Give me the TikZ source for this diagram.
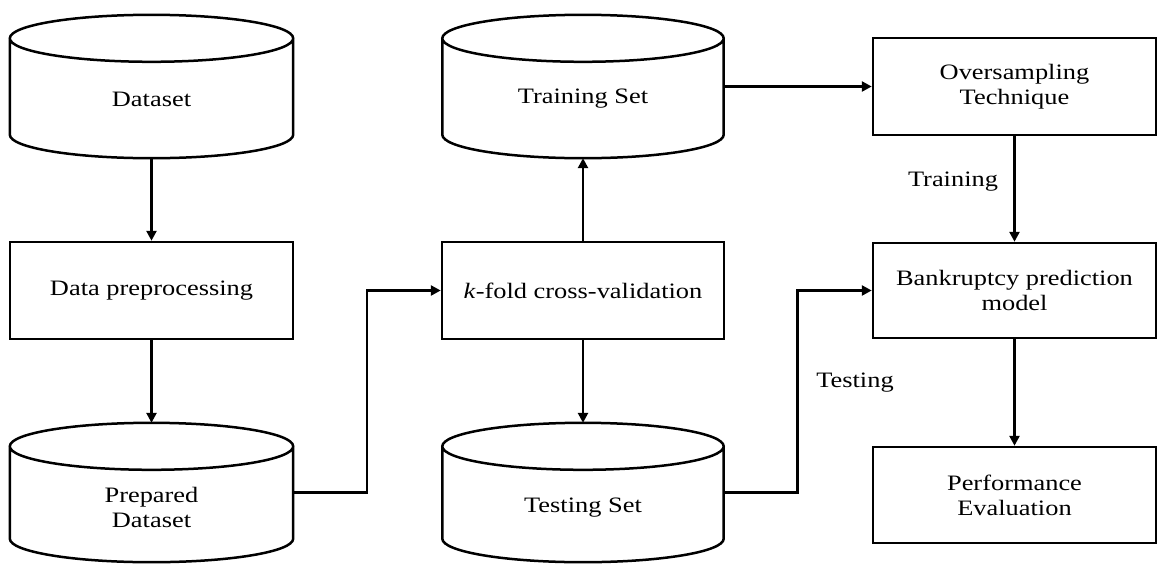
\documentclass[tikz,border=0pt]{standalone}
\usepackage{fontspec}
\setmainfont{Liberation Serif}
\usetikzlibrary{arrows.meta,calc}
\newcommand\wx[1]{\scalebox{1.2}[1]{#1}}
\newcommand\cyldraw[1]{%
  \path let \p1=(#1.north west), \p2=(#1.south east), \n1={(\x2-\x1)/2} in
    [draw=black, line width=2.5pt]
    ({(\x1+\x2)/2},{\y1-23.5pt}) ellipse [x radius=\n1, y radius=23.5pt]
    (\x1,{\y1-23.5pt}) -- (\x1,{\y2+23.5pt})
      arc[start angle=180, end angle=360, x radius=\n1, y radius=23.5pt]
      -- (\x2,{\y1-23.5pt});
}
\tikzset{
  txt/.style={font=\fontsize{22}{25}\selectfont, align=center, inner sep=0pt},
  procbox/.style={draw, line width=2.5pt, minimum width=283pt, minimum height=97pt, inner sep=0pt, font=\fontsize{22}{25}\selectfont, align=center},
  cylbox/.style={minimum width=283pt, inner sep=0pt},
  arr/.style={line width=2.5pt, -{Triangle[length=10pt,width=10pt]}},
  lbl/.style={font=\fontsize{22}{25}\selectfont, inner sep=0pt}
}
\begin{document}
\begin{tikzpicture}[x=1pt,y=-1pt]
\useasboundingbox (0,0) rectangle (1160,563);
% cylinders
\node[cylbox, minimum height=143pt] (ds) at (151.5,86.5) {};
\node[cylbox, minimum height=139pt] (pd) at (151.5,492.5) {};
\node[cylbox, minimum width=281pt, minimum height=143pt] (ts) at (583,86.5) {};
\node[cylbox, minimum width=281pt, minimum height=139pt] (tt) at (583,492.5) {};
\cyldraw{ds}
\cyldraw{pd}
\cyldraw{ts}
\cyldraw{tt}
\node[txt] (dst) at (151.5,99) {\wx{Dataset}};
\node[txt] (pdt) at (151.5,507) {\wx{Prepared}\\\wx{Dataset}};
\node[txt] (tst) at (583,99) {\wx{Training Set}};
\node[txt] (ttt) at (583,508) {\wx{Testing Set}};
% boxes
\node[procbox] (pre) at (151.5,290.5) {\wx{Data preprocessing}};
\node[procbox, minimum width=282pt] (kf) at (583,290.5) {\wx{\textit{k}-fold cross-validation}};
\node[procbox] (os) at (1014.5,86.5) {\wx{Oversampling}\\\wx{Technique}};
\node[procbox, minimum height=95pt] (bp) at (1014.5,290.5) {\wx{Bankruptcy prediction}\\\wx{model}};
\node[procbox, minimum height=96pt] (pe) at (1014.5,495) {\wx{Performance}\\\wx{Evaluation}};
% connectors
\draw[arr] (ds.south) -- (pre.north);
\draw[arr] (pre.south) -- (pd.north);
\draw[arr] (pd.east) -- ++(74,0) |- (kf.west);
\draw[arr] (kf.north) -- (ts.south);
\draw[arr] (kf.south) -- (tt.north);
\draw[arr] (ts.east) -- (os.west);
\draw[arr] (tt.east) -- ++(74,0) |- (bp.west);
\draw[arr] (os.south) -- (bp.north);
\draw[arr] (bp.south) -- (pe.north);
% labels
\node[lbl] (trl) at (953,182) {\wx{Training}};
\node[lbl] (tel) at (855,383) {\wx{Testing}};
\end{tikzpicture}
\end{document}
